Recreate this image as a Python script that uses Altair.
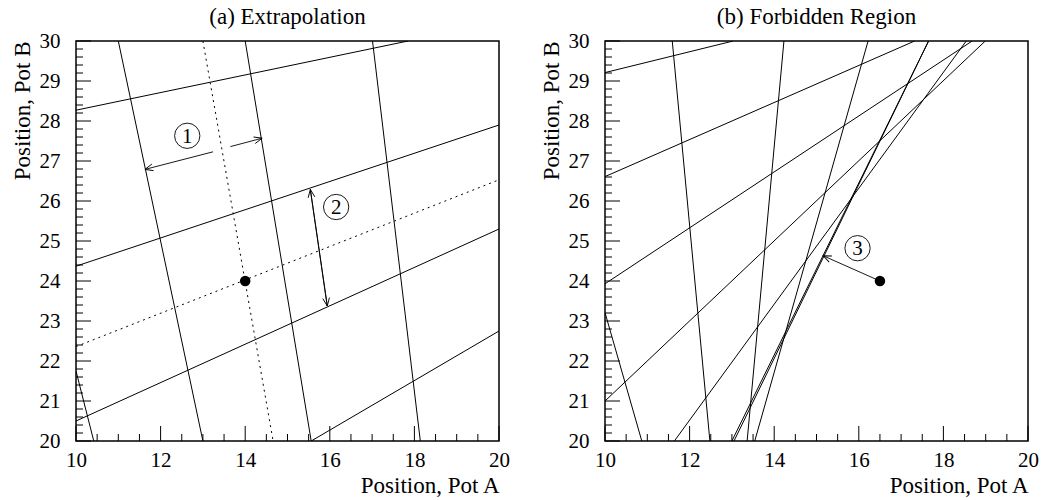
import math
import altair as alt
import pandas as pd

SERIF = "Liberation Serif, Times New Roman, Times, serif"
W, H = 423, 400          # plot area of each panel, pixels
X_DOMAIN = [10, 20]
Y_DOMAIN = [20, 30]

# axis tick positions
x_major = [10, 12, 14, 16, 18, 20]
x_minor = [v / 2 for v in range(20, 41) if v % 4 != 0]
y_major = list(range(20, 31))
y_minor = [20 + k / 5 for k in range(51) if k % 5 != 0]

# ---- panel (a): extrapolation grid ----
a_solid_x1 = [10.0, 11.0, 14.0, 17.01, 10.0, 10.0, 10.0, 15.56]
a_solid_y1 = [21.75, 30.0, 30.0, 30.0, 28.27, 24.37, 20.5, 20.0]
a_solid_x2 = [10.42, 13.0, 15.56, 18.14, 17.85, 20.0, 20.0, 20.0]
a_solid_y2 = [20.0, 20.0, 20.0, 20.0, 30.0, 27.9, 25.3, 22.75]

a_dotted_x1 = [13.0, 10.0]
a_dotted_y1 = [30.0, 22.36]
a_dotted_x2 = [14.66, 20.0]
a_dotted_y2 = [20.0, 26.53]

a_point_x = [14.0]
a_point_y = [24.0]

# arrows: start -> tip (head drawn at the tip)
a_arrow_x1 = [13.24, 13.65, 15.94, 15.54]
a_arrow_y1 = [27.23, 27.36, 23.375, 26.29]
a_arrow_x2 = [11.63, 14.40, 15.54, 15.94]
a_arrow_y2 = [26.79, 27.57, 26.29, 23.375]

a_label_x = [12.63, 16.15]
a_label_y = [27.63, 25.85]
a_label_text = ["1", "2"]

# ---- panel (b): forbidden region ----
b_solid_x1 = [10.0, 11.59, 10.0, 10.0, 10.0, 10.0, 14.23, 16.22, 11.64, 13.0, 13.05]
b_solid_y1 = [29.21, 30.0, 26.61, 23.93, 23.21, 21.0, 30.0, 30.0, 20.0, 20.0, 20.0]
b_solid_x2 = [13.03, 12.48, 17.32, 18.68, 10.87, 18.99, 13.36, 13.54, 18.54, 17.65, 17.65]
b_solid_y2 = [30.0, 20.0, 30.0, 30.0, 20.0, 30.0, 20.0, 20.0, 30.0, 30.0, 30.0]

b_point_x = [16.5]
b_point_y = [24.0]

b_arrow_x1 = [16.5]
b_arrow_y1 = [24.0]
b_arrow_x2 = [15.16]
b_arrow_y2 = [24.63]

b_label_x = [15.97]
b_label_y = [24.82]
b_label_text = ["3"]

ARROW_HEAD = "M -1 -0.42 L 0 0 L -1 0.42"


def x_axis():
    return alt.Axis(
        title="Position, Pot A", values=x_major, format="d",
        ticks=False, tickSize=0, domain=False, grid=False,
        labelFlush=False, labelOverlap=False, labelPadding=8,
        labelFont=SERIF, labelFontSize=21, labelColor="black",
        titleFont=SERIF, titleFontSize=23, titleFontWeight="normal",
        titleColor="black", titleAnchor="end", titlePadding=4,
    )


def y_axis():
    return alt.Axis(
        title="Position, Pot B", values=y_major, format="d",
        ticks=False, tickSize=0, domain=False, grid=False,
        labelFlush=False, labelOverlap=False, labelPadding=16,
        labelFont=SERIF, labelFontSize=21, labelColor="black",
        titleFont=SERIF, titleFontSize=23, titleFontWeight="normal",
        titleColor="black", titleAnchor="end", titlePadding=5,
    )


def X(field):
    return alt.X(field, type="quantitative",
                 scale=alt.Scale(domain=X_DOMAIN, nice=False, zero=False),
                 axis=x_axis())


def Y(field):
    return alt.Y(field, type="quantitative",
                 scale=alt.Scale(domain=Y_DOMAIN, nice=False, zero=False),
                 axis=y_axis())


def segments(x1, y1, x2, y2):
    return pd.DataFrame({"x1": x1, "y1": y1, "x2": x2, "y2": y2})


def tick_layers():
    xmaj = alt.Chart(pd.DataFrame({"v": x_major})).mark_rule(color="black", strokeWidth=1).encode(
        x=X("v"), y=alt.value(H), y2=alt.value(H - 15))
    xmin = alt.Chart(pd.DataFrame({"v": x_minor})).mark_rule(color="black", strokeWidth=1).encode(
        x=X("v"), y=alt.value(H), y2=alt.value(H - 7))
    ymaj = alt.Chart(pd.DataFrame({"v": y_major})).mark_rule(color="black", strokeWidth=1).encode(
        y=Y("v"), x=alt.value(0), x2=alt.value(15))
    ymin = alt.Chart(pd.DataFrame({"v": y_minor})).mark_rule(color="black", strokeWidth=1).encode(
        y=Y("v"), x=alt.value(0), x2=alt.value(7))
    return [xmaj, xmin, ymaj, ymin]


def line_layer(df, dash=None, width=1.0):
    kw = dict(color="black", strokeWidth=width, clip=True)
    if dash:
        kw["strokeDash"] = dash
    return alt.Chart(df).mark_rule(**kw).encode(
        x=X("x1"), y=Y("y1"), x2=alt.X2("x2"), y2=alt.Y2("y2"))


def arrow_layers(x1, y1, x2, y2):
    df = segments(x1, y1, x2, y2)
    # heading of each arrow in screen space (clockwise degrees)
    angles = []
    for a, b, c, d in zip(x1, y1, x2, y2):
        dx = (c - a) * W / (X_DOMAIN[1] - X_DOMAIN[0])
        dy = -(d - b) * H / (Y_DOMAIN[1] - Y_DOMAIN[0])
        angles.append(math.degrees(math.atan2(dy, dx)) % 360)
    df["angle"] = angles
    shaft = alt.Chart(df).mark_rule(color="black", strokeWidth=0.9).encode(
        x=X("x1"), y=Y("y1"), x2=alt.X2("x2"), y2=alt.Y2("y2"))
    head = alt.Chart(df).mark_point(
        shape=ARROW_HEAD, size=256, filled=False, color="black", strokeWidth=0.9, opacity=1
    ).encode(
        x=X("x2"), y=Y("y2"),
        angle=alt.Angle("angle:Q", scale=None),
    )
    return [shaft, head]


def dot_layer(xs, ys):
    return alt.Chart(pd.DataFrame({"x": xs, "y": ys})).mark_point(
        shape="circle", size=110, filled=True, color="black", opacity=1
    ).encode(x=X("x"), y=Y("y"))


def label_layers(xs, ys, texts):
    df = pd.DataFrame({"x": xs, "y": ys, "t": texts})
    ring = alt.Chart(df).mark_point(
        shape="circle", size=640, filled=False, color="black", strokeWidth=0.9, opacity=1
    ).encode(x=X("x"), y=Y("y"))
    txt = alt.Chart(df).mark_text(
        font=SERIF, fontSize=21, color="black", baseline="middle", align="center", dy=1
    ).encode(x=X("x"), y=Y("y"), text="t:N")
    return [ring, txt]


def panel(title, layers):
    return alt.layer(*layers).properties(
        width=W, height=H,
        title=alt.TitleParams(title, font=SERIF, fontSize=23, fontWeight="normal",
                              color="black", anchor="middle", offset=1),
    )


panel_a = panel(
    "(a) Extrapolation",
    tick_layers()
    + [line_layer(segments(a_solid_x1, a_solid_y1, a_solid_x2, a_solid_y2)),
       line_layer(segments(a_dotted_x1, a_dotted_y1, a_dotted_x2, a_dotted_y2), dash=[2, 4])]
    + arrow_layers(a_arrow_x1, a_arrow_y1, a_arrow_x2, a_arrow_y2)
    + [dot_layer(a_point_x, a_point_y)]
    + label_layers(a_label_x, a_label_y, a_label_text),
)

panel_b = panel(
    "(b) Forbidden Region",
    tick_layers()
    + [line_layer(segments(b_solid_x1, b_solid_y1, b_solid_x2, b_solid_y2))]
    + arrow_layers(b_arrow_x1, b_arrow_y1, b_arrow_x2, b_arrow_y2)
    + [dot_layer(b_point_x, b_point_y)]
    + label_layers(b_label_x, b_label_y, b_label_text),
)

chart = alt.hconcat(panel_a, panel_b, spacing=106, bounds="flush").properties(
    padding={"left": 10, "top": 5, "right": 2, "bottom": 4},
    background="white",
).configure_view(stroke="black", strokeWidth=1.5)

chart.save("out.html", embed_options={"renderer": "svg", "actions": False})
